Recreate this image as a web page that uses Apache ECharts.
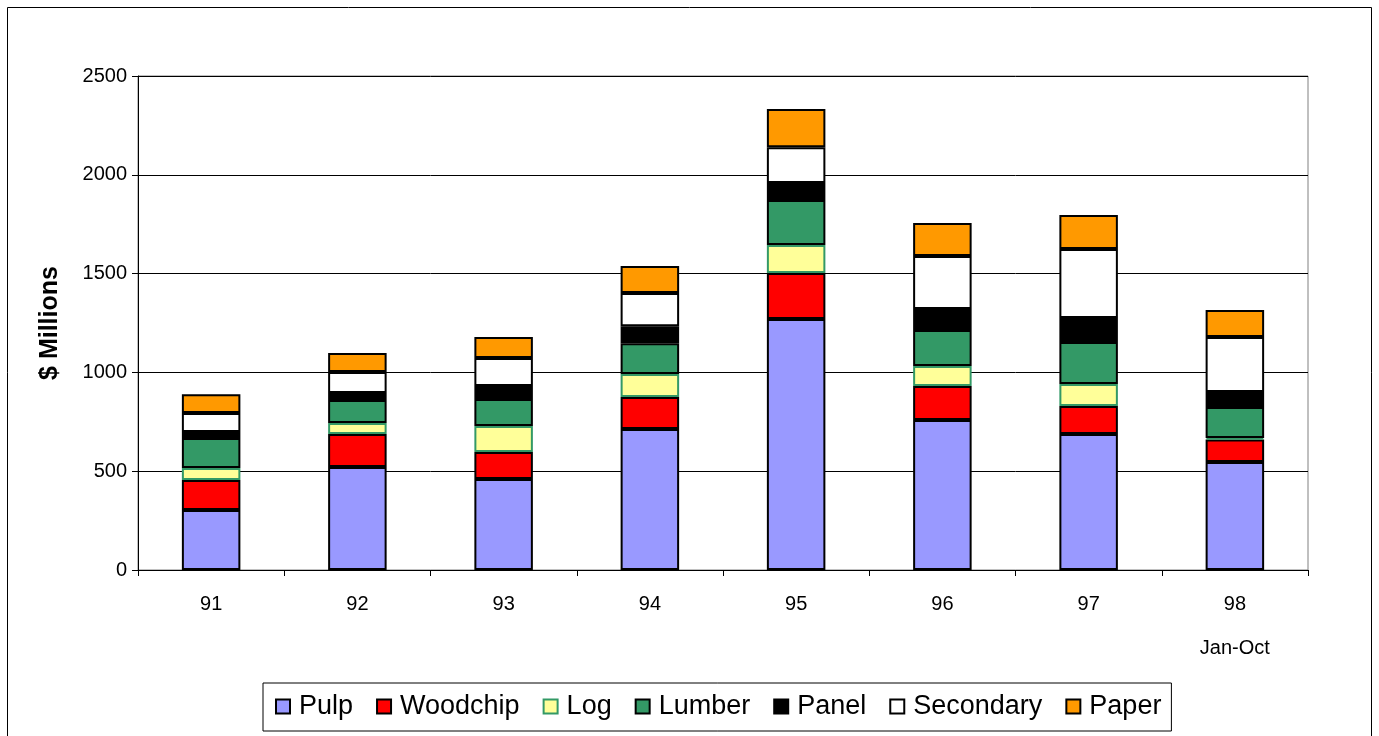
<!DOCTYPE html>
<html>
<head>
<meta charset="utf-8">
<script src="https://cdn.jsdelivr.net/npm/echarts@6/dist/echarts.min.js"></script>
<style>
  html, body { margin: 0; padding: 0; background: #fff; }
  #chart { width: 1379px; height: 736px; }
</style>
</head>
<body>
<div id="chart"></div>
<script>
// Export value by product group, $ millions (1998 covers Jan-Oct only)
const years = ['91', '92', '93', '94', '95', '96', '97', '98'];
const pulp      = [304, 521, 460, 713, 1270, 759, 688, 546];
const woodchip  = [151, 167, 137, 162, 233, 172, 142, 114];
const log       = [61, 56, 132, 117, 142, 101, 111, 8];
const lumber    = [152, 116, 136, 156, 227, 182, 213, 157];
const panel     = [30, 36, 66, 86, 86, 107, 121, 76];
const secondary = [96, 106, 142, 168, 182, 268, 349, 278];
const paper     = [96, 96, 106, 136, 193, 167, 172, 137];
const yTicks = [0, 500, 1000, 1500, 2000, 2500];

const FONT = '"Liberation Sans", Arial, sans-serif';

const seriesDefs = [
  { name: 'Pulp',      data: pulp,      color: '#9999FF', border: '#000000' },
  { name: 'Woodchip',  data: woodchip,  color: '#FF0000', border: '#000000' },
  { name: 'Log',       data: log,       color: '#FFFF99', border: '#339966' },
  { name: 'Lumber',    data: lumber,    color: '#339966', border: '#000000' },
  { name: 'Panel',     data: panel,     color: '#000000', border: '#000000' },
  { name: 'Secondary', data: secondary, color: '#FFFFFF', border: '#000000' },
  { name: 'Paper',     data: paper,     color: '#FF9900', border: '#000000' }
];

const chart = echarts.init(document.getElementById('chart'), null, { renderer: 'canvas' });

chart.setOption({
  backgroundColor: '#ffffff',
  animation: false,
  textStyle: { fontFamily: FONT },
  graphic: [{
    type: 'rect',
    shape: { x: 7.5, y: 7.5, width: 1364, height: 740 },
    style: { fill: 'none', stroke: '#000000', lineWidth: 1 },
    silent: true
  }],
  grid: {
    left: 138, right: 71, top: 76, bottom: 166,
    show: true, borderColor: '#808080', borderWidth: 1,
    containLabel: false
  },
  legend: {
    left: 263, top: 683,
    orient: 'horizontal',
    icon: 'rect',
    itemWidth: 14, itemHeight: 14,
    itemGap: 23,
    padding: [10, 10, 11, 12],
    borderColor: '#000000', borderWidth: 1,
    textStyle: { fontSize: 27, color: '#000000', fontFamily: FONT, padding: [0, 0, 0, 4] },
    data: seriesDefs.map(s => s.name)
  },
  xAxis: {
    type: 'category',
    data: years,
    axisLine: { lineStyle: { color: '#000000', width: 1 } },
    axisTick: { show: true, length: 6, lineStyle: { color: '#000000' } },
    axisLabel: {
      color: '#000000', fontSize: 20, margin: 23, lineHeight: 22,
      formatter: v => v === '98' ? '98\n\nJan-Oct' : v
    }
  },
  yAxis: {
    type: 'value',
    min: 0, max: 2500, interval: 500,
    name: '$ Millions',
    nameLocation: 'middle',
    nameGap: 75,
    nameTextStyle: { fontSize: 25, fontWeight: 'bold', color: '#000000', fontFamily: FONT },
    axisLine: { show: true, lineStyle: { color: '#000000', width: 1 } },
    axisTick: { show: true, length: 6, lineStyle: { color: '#000000' } },
    axisLabel: {
      color: '#000000', fontSize: 20, margin: 11,
      formatter: v => yTicks.includes(v) ? String(v) : ''
    },
    splitLine: { show: true, lineStyle: { color: '#000000', width: 1 } }
  },
  series: seriesDefs.map(s => ({
    name: s.name,
    type: 'bar',
    stack: 'total',
    data: s.data,
    barWidth: '40%',
    itemStyle: { color: s.color, borderColor: s.border, borderWidth: 2 }
  }))
});
</script>
</body>
</html>
